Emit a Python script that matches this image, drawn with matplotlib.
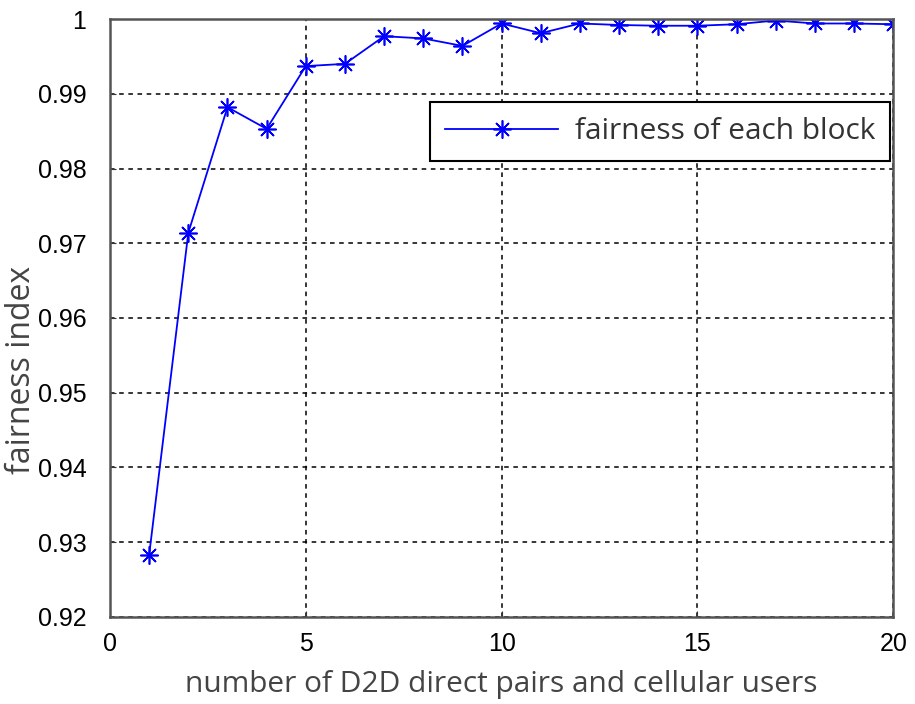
import matplotlib.pyplot as plt

# data
users = [1, 2, 3, 4, 5, 6, 7, 8, 9, 10, 11, 12, 13, 14, 15, 16, 17, 18, 19, 20]
fairness = [0.9283, 0.9714, 0.9882, 0.9853, 0.9937, 0.9940, 0.9977, 0.9974, 0.9964, 0.9994,
            0.9981, 0.9994, 0.9992, 0.9991, 0.9991, 0.9993, 0.9998, 0.9994, 0.9994, 0.9993]
xticks = [0, 5, 10, 15, 20]
yticks = [0.92, 0.93, 0.94, 0.95, 0.96, 0.97, 0.98, 0.99, 1.0]
ytick_labels = ['0.92', '0.93', '0.94', '0.95', '0.96', '0.97', '0.98', '0.99', '1']

fig = plt.figure(figsize=(9.15, 7.04), dpi=100)
ax = fig.add_axes([0.1202, 0.1236, 0.856, 0.8494])

ax.plot(users, fairness, color='#0000ff', lw=1.3, marker=(8, 2, 0), markersize=13,
        markeredgewidth=1.2, label='fairness of each block')

ax.set_xlim(0, 20)
ax.set_ylim(0.92, 1.0)
ax.set_xticks(xticks)
ax.set_yticks(yticks)
ax.set_yticklabels(ytick_labels)
ax.tick_params(direction='in', length=4, labelsize=18, color='#333333')
ax.tick_params(axis='y', pad=17)
ax.tick_params(axis='x', pad=11)
for lab in ax.get_xticklabels() + ax.get_yticklabels():
    lab.set_family('Liberation Sans')

ax.grid(True, color='black', linestyle=(0, (3, 3)), linewidth=1.1)
for s in ax.spines.values():
    s.set_color('#555555')
    s.set_linewidth(1.8)

ax.set_xlabel('number of D2D direct pairs and cellular users', fontsize=21.5,
              family='Open Sans', color='#444444', labelpad=10)
ax.set_ylabel('fairness index', fontsize=23, family='Open Sans', color='#444444')
ax.yaxis.set_label_coords(-0.092, 0.413)

leg = ax.legend(loc='upper right', bbox_to_anchor=(0.996, 0.861), borderaxespad=0,
                prop={'family': 'Open Sans', 'size': 21.5}, fancybox=False, framealpha=1,
                handlelength=3.8, handletextpad=0.55, borderpad=0.5, edgecolor='black')
leg.get_frame().set_linewidth(1.5)
for t in leg.get_texts():
    t.set_color('#333333')

fig.savefig('out.png', dpi=100)
